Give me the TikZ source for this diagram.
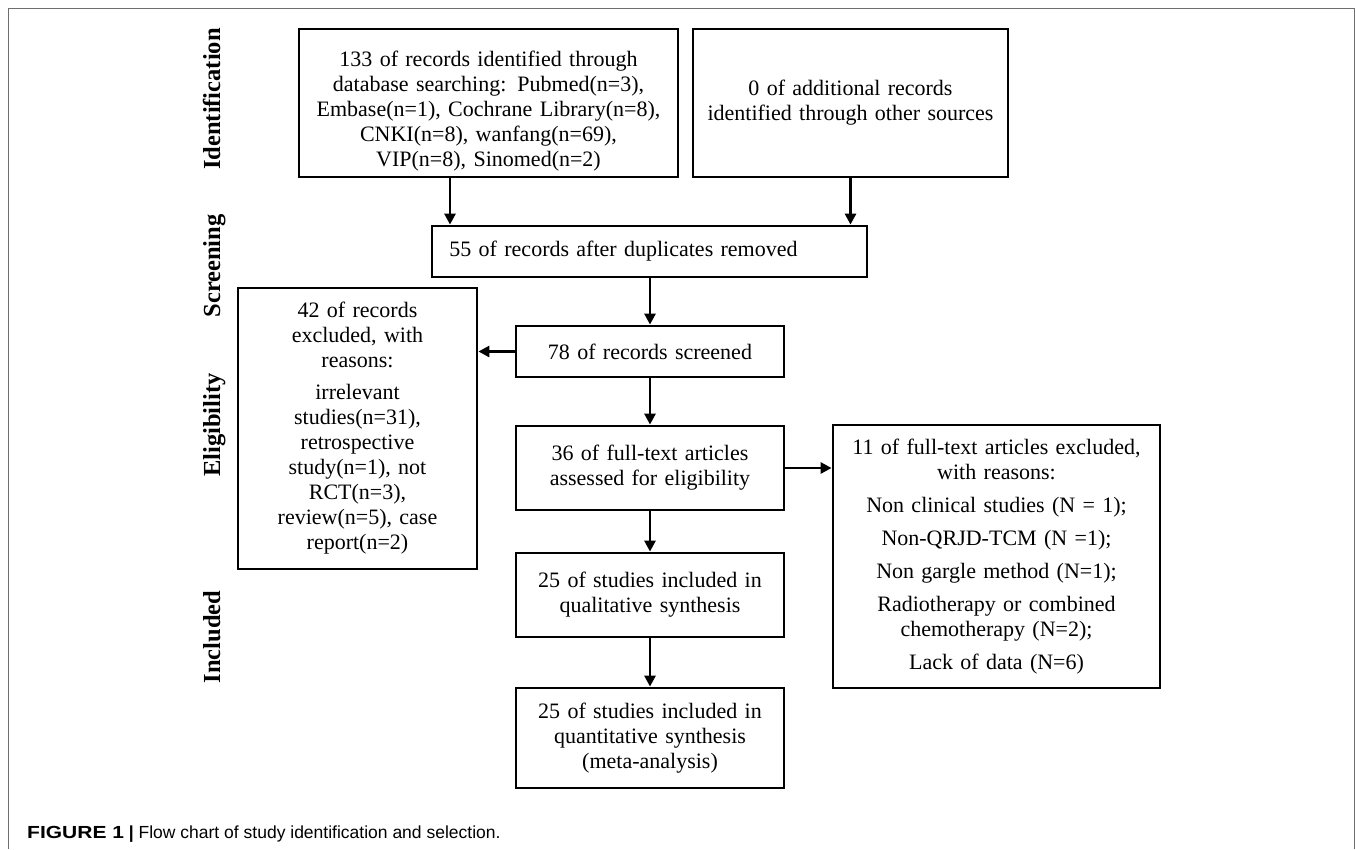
\documentclass[tikz,border=0pt]{standalone}
\usepackage{fontspec}
\setmainfont{Liberation Serif}
\newfontfamily\capfont{Liberation Sans}
\usetikzlibrary{arrows.meta}
\definecolor{framegray}{RGB}{110,110,110}
\begin{document}
\begin{tikzpicture}[x=1pt,y=-1pt,
  box/.style={draw, line width=2.8pt, inner sep=0pt, align=center,
    font=\fontsize{22}{25}\selectfont},
  phase/.style={rotate=90, anchor=base, font=\fontsize{24.5}{28}\selectfont\bfseries},
  arr/.style={line width=2.8pt, -{Triangle[length=11pt,width=11pt]}},
  frameline/.style={draw=framegray, line width=1pt}]
\useasboundingbox (0,0) rectangle (1355,849);
\draw[frameline] (8,849) -- (8,8) -- (1354,8) -- (1354,849);

% phase labels
\node[phase] (pid) at (220,99) {Identification};
\node[phase] (psc) at (220,266) {Screening};
\node[phase] (pel) at (220,425) {Eligibility};
\node[phase] (pin) at (220,637) {Included};

% boxes
\node[box, minimum width=379pt, minimum height=148pt, text width=372pt] (A) at (488.5,103)
  {\rule{0pt}{31pt}133 of records identified through\\database searching: Pubmed(n=3),\\Embase(n=1), Cochrane Library(n=8),\\CNKI(n=8), wanfang(n=69),\\VIP(n=8), Sinomed(n=2)};
\node[box, minimum width=315pt, minimum height=148pt, text width=308pt] (B) at (850.5,103)
  {0 of additional records\\identified through other sources};
\node[box, minimum width=435pt, minimum height=51pt, text width=428pt] (C) at (649.5,251.5)
  {\hspace*{-52pt}55 of records after duplicates removed};
\node[box, minimum width=239pt, minimum height=281pt, text width=232pt] (L) at (357.5,428.5)
  {42 of records\\excluded, with\\reasons:\\[7pt]irrelevant\\studies(n=31),\\retrospective\\study(n=1), not\\RCT(n=3),\\review(n=5), case\\report(n=2)};
\node[box, minimum width=268pt, minimum height=51pt, text width=261pt] (D) at (650,351.5)
  {78 of records screened};
\node[box, minimum width=268pt, minimum height=84pt, text width=261pt] (E) at (650,468)
  {36 of full-text articles\\assessed for eligibility};
\node[box, minimum width=327pt, minimum height=263pt, text width=320pt] (R) at (996.5,556.5)
  {11 of full-text articles excluded,\\with reasons:\\[8pt]Non clinical studies (N = 1);\\[8pt]Non-QRJD-TCM (N =1);\\[8pt]Non gargle method (N=1);\\[8pt]Radiotherapy or combined\\chemotherapy (N=2);\\[8pt]Lack of data (N=6)};
\node[box, minimum width=268pt, minimum height=84pt, text width=261pt] (F) at (650,595)
  {25 of studies included in\\qualitative synthesis};
\node[box, minimum width=268pt, minimum height=100pt, text width=261pt] (G) at (650,738)
  {25 of studies included in\\quantitative synthesis\\(meta-analysis)};

% connectors
\coordinate (xa) at (450,0);
\draw[arr] (A.south -| xa) -- (C.north -| xa);
\draw[arr] (B.south) -- (C.north -| B.south);
\draw[arr] (C.south -| D.north) -- (D.north);
\draw[arr] (D.west) -- (L.east |- D.west);
\draw[arr] (D.south) -- (E.north);
\draw[arr] (E.east) -- (R.west |- E.east);
\draw[arr] (E.south) -- (F.north);
\draw[arr] (F.south) -- (G.north);

% caption
\node[anchor=base west, inner sep=0pt, font=\capfont\fontsize{17.5}{20}\selectfont] (cap) at (27,838)
  {\scalebox{1.2}[1]{\textbf{FIGURE 1}} \textbf{|} Flow chart of study identification and selection.};
\end{tikzpicture}
\end{document}
